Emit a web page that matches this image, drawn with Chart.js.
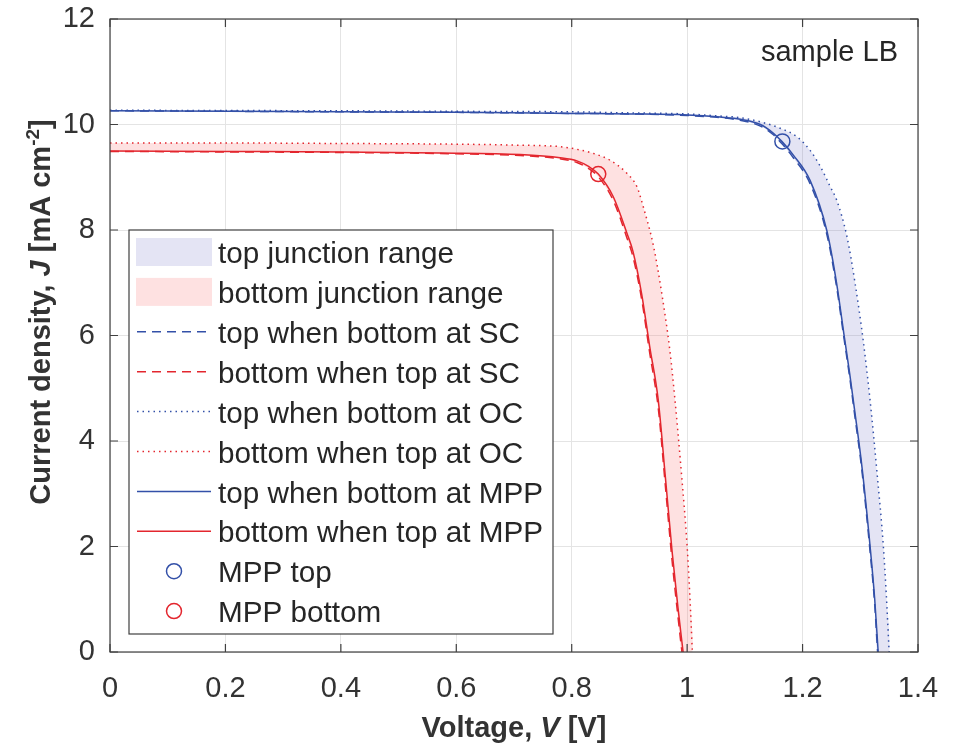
<!DOCTYPE html>
<html>
<head>
<meta charset="utf-8">
<script src="https://cdn.jsdelivr.net/npm/chart.js@4/dist/chart.umd.min.js"></script>
<style>
  html, body { margin: 0; padding: 0; background: #fff; }
</style>
</head>
<body>
<canvas id="myChart" width="955" height="745"></canvas>
<script>
// axis ticks
var xTicks = [0, 0.2, 0.4, 0.6, 0.8, 1, 1.2, 1.4];
var xTickLabels = ['0', '0.2', '0.4', '0.6', '0.8', '1', '1.2', '1.4'];
var yTicks = [0, 2, 4, 6, 8, 10, 12];
var yTickLabels = ['0', '2', '4', '6', '8', '10', '12'];

// top junction, bottom cell held at MPP (solid)
var vTopMPP = [0, 0.2, 0.4, 0.6, 0.8, 0.9, 1.0, 1.057, 1.092, 1.127, 1.15, 1.164, 1.184, 1.213, 1.242, 1.259, 1.272, 1.282, 1.29, 1.303, 1.317, 1.325, 1.331];
var jTopMPP = [10.26, 10.25, 10.24, 10.23, 10.21, 10.2, 10.18, 10.14, 10.1, 10.0, 9.83, 9.68, 9.42, 8.94, 7.99, 6.99, 6.0, 5.25, 4.6, 3.5, 2.0, 1.0, 0];
// top junction, bottom at SC (dashed)
var vTopSC = [0, 0.2, 0.4, 0.6, 0.8, 0.9, 1.0, 1.057, 1.092, 1.127, 1.15, 1.164, 1.184, 1.213, 1.242, 1.259, 1.272, 1.282, 1.29, 1.303, 1.317, 1.325, 1.33];
var jTopSC = [10.26, 10.25, 10.24, 10.23, 10.21, 10.2, 10.17, 10.13, 10.08, 9.97, 9.8, 9.64, 9.37, 8.88, 7.92, 6.92, 5.93, 5.18, 4.52, 3.42, 1.9, 0.9, 0];
// top junction, bottom at OC (dotted)
var vTopOC = [0, 0.2, 0.4, 0.6, 0.8, 0.9, 1.0, 1.057, 1.092, 1.127, 1.161, 1.19, 1.213, 1.231, 1.248, 1.259, 1.277, 1.291, 1.305, 1.317, 1.329, 1.34, 1.345, 1.35];
var jTopOC = [10.27, 10.265, 10.26, 10.25, 10.24, 10.22, 10.2, 10.16, 10.13, 10.05, 9.93, 9.77, 9.51, 9.2, 8.82, 8.57, 7.87, 6.99, 5.91, 4.77, 3.4, 2.0, 1.1, 0];

// bottom junction, top at MPP (solid)
var vBotMPP = [0, 0.2, 0.4, 0.572, 0.711, 0.78, 0.809, 0.83, 0.846, 0.872, 0.896, 0.906, 0.921, 0.935, 0.95, 0.962, 0.974, 0.984, 0.993];
var jBotMPP = [9.5, 9.49, 9.48, 9.46, 9.43, 9.37, 9.31, 9.2, 9.06, 8.63, 7.93, 7.6, 6.8, 5.8, 4.77, 3.35, 1.9, 0.85, 0];
// bottom junction, top at SC (dashed)
var vBotSC = [0, 0.2, 0.4, 0.572, 0.711, 0.78, 0.809, 0.83, 0.846, 0.872, 0.896, 0.906, 0.921, 0.935, 0.95, 0.962, 0.974, 0.984, 0.991];
var jBotSC = [9.49, 9.48, 9.47, 9.45, 9.41, 9.35, 9.28, 9.16, 9.01, 8.56, 7.84, 7.5, 6.7, 5.68, 4.62, 3.18, 1.72, 0.68, 0];
// bottom junction, top at OC (dotted)
var vBotOC = [0, 0.2, 0.4, 0.572, 0.7, 0.78, 0.809, 0.838, 0.867, 0.896, 0.913, 0.924, 0.942, 0.956, 0.97, 0.979, 0.99, 1.0, 1.005, 1.009];
var jBotOC = [9.65, 9.65, 9.64, 9.63, 9.61, 9.58, 9.53, 9.45, 9.32, 9.07, 8.82, 8.44, 7.68, 6.8, 5.72, 4.77, 3.4, 2.0, 1.0, 0];

// maximum power points
var mppTop = [1.165, 9.68];
var mppBot = [0.846, 9.06];

var blue = '#3350a8';
var red = '#e3262e';
var topFill = 'rgba(120, 120, 200, 0.2)';
var botFill = 'rgba(250, 120, 120, 0.22)';
var fontFamily = "'Liberation Sans', Arial, sans-serif";
var textColor = '#333333';

function pts(v, j) {
    return v.map(function (x, i) { return {x: x, y: j[i]}; });
}

// closed band: SC curve out, OC curve back
function band(v1, j1, v2, j2) {
    return pts(v1, j1).concat(pts(v2, j2).reverse());
}

function lineSet(label, v, j, color, dash, order) {
    return {
        label: label,
        data: pts(v, j),
        borderColor: color,
        borderWidth: 1.5,
        borderDash: dash,
        pointRadius: 0,
        fill: false,
        cubicInterpolationMode: 'monotone',
        order: order
    };
}

var legendItems = [
    {label: 'top junction range', kind: 'patch', color: topFill},
    {label: 'bottom junction range', kind: 'patch', color: botFill},
    {label: 'top when bottom at SC', kind: 'line', color: blue, dash: [9, 6]},
    {label: 'bottom when top at SC', kind: 'line', color: red, dash: [9, 6]},
    {label: 'top when bottom at OC', kind: 'line', color: blue, dash: [1.5, 4]},
    {label: 'bottom when top at OC', kind: 'line', color: red, dash: [1.5, 4]},
    {label: 'top when bottom at MPP', kind: 'line', color: blue, dash: []},
    {label: 'bottom when top at MPP', kind: 'line', color: red, dash: []},
    {label: 'MPP top', kind: 'circle', color: blue},
    {label: 'MPP bottom', kind: 'circle', color: red}
];

function drawRich(ctx, parts, cx, baseY) {
    var total = 0;
    parts.forEach(function (p) { ctx.font = p.font; p.w = ctx.measureText(p.text).width; total += p.w; });
    var x = cx - total / 2;
    ctx.textAlign = 'left';
    ctx.textBaseline = 'alphabetic';
    parts.forEach(function (p) {
        ctx.font = p.font;
        ctx.fillText(p.text, x, baseY + (p.dy || 0));
        x += p.w;
    });
}

var decor = {
    id: 'decor',
    afterDraw: function (chart) {
        var ctx = chart.ctx, a = chart.chartArea;
        var xs = chart.scales.x, ys = chart.scales.y;
        ctx.save();

        // axes box with inward ticks
        ctx.strokeStyle = '#404040';
        ctx.lineWidth = 1.2;
        ctx.setLineDash([]);
        ctx.strokeRect(a.left, a.top, a.right - a.left, a.bottom - a.top);
        ctx.beginPath();
        xTicks.forEach(function (v) {
            var px = xs.getPixelForValue(v);
            ctx.moveTo(px, a.bottom); ctx.lineTo(px, a.bottom - 8);
            ctx.moveTo(px, a.top); ctx.lineTo(px, a.top + 8);
        });
        yTicks.forEach(function (v) {
            var py = ys.getPixelForValue(v);
            ctx.moveTo(a.left, py); ctx.lineTo(a.left + 8, py);
            ctx.moveTo(a.right, py); ctx.lineTo(a.right - 8, py);
        });
        ctx.stroke();

        // axis titles
        ctx.fillStyle = textColor;
        var b = 'bold 29px ' + fontFamily;
        var bi = 'italic bold 29px ' + fontFamily;
        drawRich(ctx, [
            {text: 'Voltage, ', font: b},
            {text: 'V', font: bi},
            {text: ' [V]', font: b}
        ], (a.left + a.right) / 2, 737);
        ctx.save();
        ctx.translate(50, 312);
        ctx.rotate(-Math.PI / 2);
        drawRich(ctx, [
            {text: 'Current density, ', font: b},
            {text: 'J', font: bi},
            {text: ' [mA cm', font: b},
            {text: '-2', font: 'bold 19px ' + fontFamily, dy: -11},
            {text: ']', font: b}
        ], 0, 0);
        ctx.restore();

        // sample label
        ctx.font = '29px ' + fontFamily;
        ctx.textAlign = 'right';
        ctx.textBaseline = 'middle';
        ctx.fillStyle = '#262626';
        ctx.fillText('sample LB', 898, 53);

        // legend
        var lx = 129, ly = 230, lw = 424, lh = 404;
        ctx.fillStyle = '#ffffff';
        ctx.fillRect(lx, ly, lw, lh);
        ctx.strokeStyle = '#404040';
        ctx.lineWidth = 1.2;
        ctx.strokeRect(lx, ly, lw, lh);
        legendItems.forEach(function (it, i) {
            var cy = 252 + i * 39.9;
            if (it.kind === 'patch') {
                ctx.fillStyle = it.color;
                ctx.fillRect(136, cy - 14, 76, 28);
            } else if (it.kind === 'line') {
                ctx.strokeStyle = it.color;
                ctx.lineWidth = 1.5;
                ctx.setLineDash(it.dash);
                ctx.beginPath();
                ctx.moveTo(137, cy); ctx.lineTo(211, cy);
                ctx.stroke();
                ctx.setLineDash([]);
            } else {
                ctx.strokeStyle = it.color;
                ctx.lineWidth = 1.5;
                ctx.beginPath();
                ctx.arc(174, cy, 7.5, 0, Math.PI * 2);
                ctx.stroke();
            }
            ctx.fillStyle = '#262626';
            ctx.font = '29.7px ' + fontFamily;
            ctx.textAlign = 'left';
            ctx.textBaseline = 'middle';
            ctx.fillText(it.label, 218, cy + 3);
        });
        ctx.restore();
    }
};

var ctx = document.getElementById('myChart').getContext('2d');
var chart = new Chart(ctx, {
    type: 'line',
    data: {
        datasets: [
            {
                label: 'top junction range',
                data: band(vTopSC, jTopSC, vTopOC, jTopOC),
                backgroundColor: topFill,
                borderWidth: 0,
                pointRadius: 0,
                fill: 'shape',
                tension: 0.25,
                order: 10
            },
            {
                label: 'bottom junction range',
                data: band(vBotSC, jBotSC, vBotOC, jBotOC),
                backgroundColor: botFill,
                borderWidth: 0,
                pointRadius: 0,
                fill: 'shape',
                tension: 0.25,
                order: 10
            },
            lineSet('top when bottom at SC', vTopSC, jTopSC, blue, [9, 6], 8),
            lineSet('bottom when top at SC', vBotSC, jBotSC, red, [9, 6], 8),
            lineSet('top when bottom at OC', vTopOC, jTopOC, blue, [1.5, 4], 6),
            lineSet('bottom when top at OC', vBotOC, jBotOC, red, [1.5, 4], 6),
            lineSet('top when bottom at MPP', vTopMPP, jTopMPP, blue, [], 4),
            lineSet('bottom when top at MPP', vBotMPP, jBotMPP, red, [], 4),
            {
                label: 'MPP top',
                data: [{x: mppTop[0], y: mppTop[1]}],
                showLine: false,
                pointRadius: 7.5,
                pointBorderWidth: 1.5,
                pointBorderColor: blue,
                pointBackgroundColor: 'rgba(0,0,0,0)',
                order: 0
            },
            {
                label: 'MPP bottom',
                data: [{x: mppBot[0], y: mppBot[1]}],
                showLine: false,
                pointRadius: 7.5,
                pointBorderWidth: 1.5,
                pointBorderColor: red,
                pointBackgroundColor: 'rgba(0,0,0,0)',
                order: 0
            }
        ]
    },
    options: {
        responsive: false,
        devicePixelRatio: 1,
        animation: false,
        layout: { padding: { top: 19, right: 37, left: 0, bottom: 0 } },
        plugins: {
            legend: { display: false },
            tooltip: { enabled: false }
        },
        scales: {
            x: {
                type: 'linear',
                min: 0,
                max: 1.4,
                afterBuildTicks: function (s) { s.ticks = xTicks.map(function (v) { return {value: v}; }); },
                afterFit: function (s) { s.height = 93; },
                ticks: {
                    callback: function (v) { return xTickLabels[xTicks.indexOf(v)]; },
                    font: { family: fontFamily, size: 29 },
                    color: textColor,
                    padding: 0,
                    maxRotation: 0,
                    autoSkip: false
                },
                // invisible outer ticks only push the labels away from the axis
                grid: { color: '#e4e4e4', drawTicks: true, tickLength: 20, tickColor: 'rgba(0,0,0,0)' },
                border: { display: false }
            },
            y: {
                type: 'linear',
                min: 0,
                max: 12,
                afterBuildTicks: function (s) { s.ticks = yTicks.map(function (v) { return {value: v}; }); },
                afterFit: function (s) { s.width = 110; },
                ticks: {
                    callback: function (v) { return yTickLabels[yTicks.indexOf(v)]; },
                    font: { family: fontFamily, size: 29 },
                    color: textColor,
                    padding: 0,
                    autoSkip: false
                },
                grid: { color: '#e4e4e4', drawTicks: true, tickLength: 15, tickColor: 'rgba(0,0,0,0)' },
                border: { display: false }
            }
        }
    },
    plugins: [decor]
});
</script>
</body>
</html>
